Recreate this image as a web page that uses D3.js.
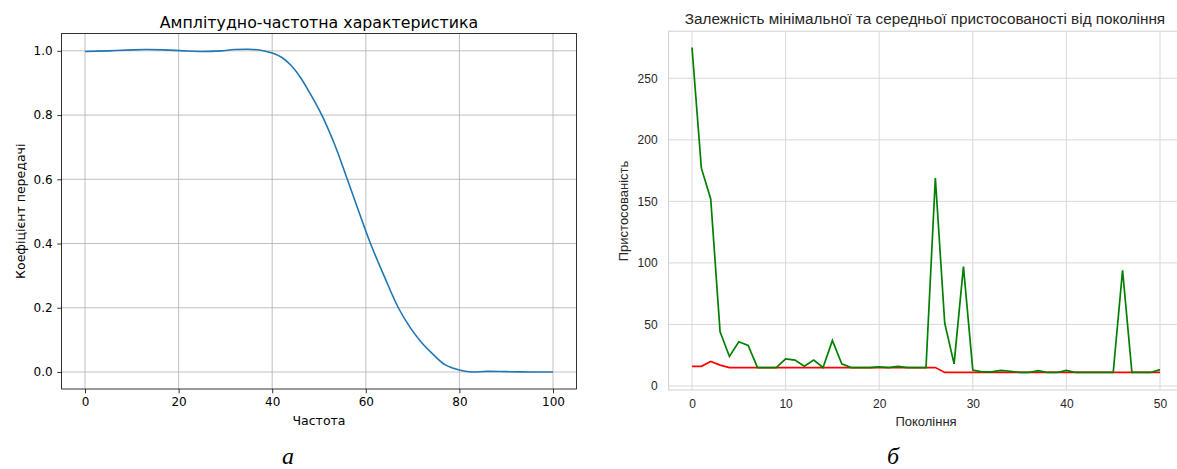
<!DOCTYPE html>
<html><head><meta charset="utf-8">
<script src="https://cdn.jsdelivr.net/npm/d3@7"></script>
<style>body{margin:0;background:#fff}</style>
</head><body>
<svg id="c" width="1177" height="469"></svg>
<script>
// ---- Left chart data ----
const freq = [0, 5, 10, 13, 17, 21, 25, 29, 32, 35, 37.5, 40, 42, 44, 46, 48, 50.6, 53.3, 56.05, 58.5, 61, 64, 66.95, 69.5, 72, 74.5, 77, 80, 82.5, 86, 90, 95, 100];
const gain = [0.998, 1.000, 1.003, 1.004, 1.003, 1.000, 0.998, 1.000, 1.004, 1.005, 1.002, 0.993, 0.980, 0.955, 0.918, 0.870, 0.800, 0.710, 0.600, 0.500, 0.400, 0.296, 0.200, 0.138, 0.090, 0.053, 0.022, 0.006, 0.000, 0.002, 0.001, 0.000, 0.000];
const freqTicks = [0, 20, 40, 60, 80, 100];
const gainTicks = [0.0, 0.2, 0.4, 0.6, 0.8, 1.0];

// ---- Right chart data ----
const generations = d3.range(0, 51);
const minFitness = [16, 16, 20, 17,
  15, 15, 15, 15, 15, 15, 15, 15, 15, 15, 15, 15, 15, 15, 15, 15, 15, 15, 15, 15, 15, 15, 15,
  11, 11, 11, 11, 11, 11, 11, 11, 11, 11, 11, 11, 11, 11, 11, 11, 11, 11, 11, 11, 11, 11, 11, 11];
const meanFitness = [275, 177, 152, 44, 24, 36, 33, 15, 15, 15,
  22, 21, 16, 21, 15, 37, 18, 15, 15, 15,
  15.5, 15, 16, 15, 15, 15, 169, 51, 18, 97,
  13, 11.5, 11.5, 12.7, 12, 11, 11, 12.5, 11, 11,
  12.7, 11, 11, 11, 11, 11, 94, 11, 11, 11, 13.3];
const genTicks = [0, 10, 20, 30, 40, 50];
const fitTicks = [0, 50, 100, 150, 200, 250];

const svg = d3.select("#c");

// ================= LEFT =================
(function(){
  const g = svg.append("g");
  const x = d3.scaleLinear().domain([-5, 105]).range([61.6, 576.4]);
  const y = d3.scaleLinear().domain([-0.053, 1.054]).range([389, 33.5]);
  const font = "DejaVu Sans, sans-serif";
  g.append("g").selectAll("line").data(freqTicks).join("line")
    .attr("x1", d => x(d)).attr("x2", d => x(d)).attr("y1", y.range()[0]).attr("y2", y.range()[1])
    .attr("stroke", "#b0b0b0").attr("stroke-width", 0.8);
  g.append("g").selectAll("line").data(gainTicks).join("line")
    .attr("y1", d => y(d)).attr("y2", d => y(d)).attr("x1", x.range()[0]).attr("x2", x.range()[1])
    .attr("stroke", "#b0b0b0").attr("stroke-width", 0.8);
  g.append("path").datum(freq.map((f, i) => [f, gain[i]]))
    .attr("fill", "none").attr("stroke", "#1f77b4").attr("stroke-width", 1.6)
    .attr("d", d3.line().x(d => x(d[0])).y(d => y(d[1])).curve(d3.curveCatmullRom.alpha(0.5)));
  const xa = d3.axisBottom(x).tickValues(freqTicks).tickSize(4.3).tickPadding(4).tickFormat(d3.format("d"));
  const ya = d3.axisLeft(y).tickValues(gainTicks).tickSize(4.3).tickPadding(4.7).tickFormat(d3.format(".1f"));
  const gx = g.append("g").attr("transform", `translate(0,${y.range()[0]})`).call(xa);
  const gy = g.append("g").attr("transform", `translate(${x.range()[0]},0)`).call(ya);
  [gx, gy].forEach(a => {
    a.select(".domain").remove();
    a.selectAll("line").attr("stroke", "#000").attr("stroke-width", 0.8);
    a.selectAll("text").attr("font-family", font).attr("font-size", "12px").attr("fill", "#000");
  });
  g.append("rect").attr("x", x.range()[0]).attr("y", y.range()[1])
    .attr("width", x.range()[1] - x.range()[0]).attr("height", y.range()[0] - y.range()[1])
    .attr("fill", "none").attr("stroke", "#000").attr("stroke-width", 0.8);
  g.append("text").attr("x", (x.range()[0] + x.range()[1]) / 2).attr("y", 27.5)
    .attr("text-anchor", "middle").attr("font-family", font).attr("font-size", "15.8px")
    .text("Амплітудно-частотна характеристика");
  g.append("text").attr("x", (x.range()[0] + x.range()[1]) / 2).attr("y", 425)
    .attr("text-anchor", "middle").attr("font-family", font).attr("font-size", "12.5px")
    .text("Частота");
  g.append("text").attr("transform", `translate(25,${(y.range()[0] + y.range()[1]) / 2}) rotate(-90)`)
    .attr("text-anchor", "middle").attr("font-family", font).attr("font-size", "12.5px")
    .text("Коефіцієнт передачі");
})();

// ================= RIGHT =================
(function(){
  const g = svg.append("g");
  const x = d3.scaleLinear().domain([-2.5, 52.5]).range([668.6, 1183.4]);
  const y = d3.scaleLinear().domain([-3.25, 288.25]).range([390, 31.2]);
  const font = "Liberation Sans, Arial, sans-serif";
  const tc = "#262626";
  g.append("g").selectAll("line").data(genTicks).join("line")
    .attr("x1", d => x(d)).attr("x2", d => x(d)).attr("y1", y.range()[0]).attr("y2", y.range()[1])
    .attr("stroke", "#d9d9d9").attr("stroke-width", 1);
  g.append("g").selectAll("line").data(fitTicks).join("line")
    .attr("y1", d => y(d)).attr("y2", d => y(d)).attr("x1", x.range()[0]).attr("x2", x.range()[1])
    .attr("stroke", "#d9d9d9").attr("stroke-width", 1);
  g.append("rect").attr("x", x.range()[0]).attr("y", y.range()[1])
    .attr("width", x.range()[1] - x.range()[0]).attr("height", y.range()[0] - y.range()[1])
    .attr("fill", "none").attr("stroke", "#d0d0d0").attr("stroke-width", 1);
  const line = d3.line().x((d, i) => x(generations[i])).y(d => y(d));
  g.append("path").datum(minFitness).attr("fill", "none").attr("stroke", "#ff0000")
    .attr("stroke-width", 1.7).attr("d", line);
  g.append("path").datum(meanFitness).attr("fill", "none").attr("stroke", "#008000")
    .attr("stroke-width", 1.7).attr("d", line);
  const xa = d3.axisBottom(x).tickValues(genTicks).tickSize(0).tickPadding(9);
  const ya = d3.axisLeft(y).tickValues(fitTicks).tickSize(0).tickPadding(11);
  const gx = g.append("g").attr("transform", `translate(0,${y.range()[0]})`).call(xa);
  const gy = g.append("g").attr("transform", `translate(${x.range()[0]},0)`).call(ya);
  [gx, gy].forEach(a => {
    a.select(".domain").remove();
    a.selectAll("text").attr("font-family", font).attr("font-size", "12px").attr("fill", tc);
  });
  g.append("text").attr("x", 925).attr("y", 24)
    .attr("text-anchor", "middle").attr("font-family", font).attr("font-size", "15.3px").attr("fill", tc)
    .text("Залежність мінімальної та середньої пристосованості від покоління");
  g.append("text").attr("x", 926).attr("y", 426)
    .attr("text-anchor", "middle").attr("font-family", font).attr("font-size", "13px").attr("fill", tc)
    .text("Покоління");
  g.append("text").attr("transform", `translate(628,211) rotate(-90)`)
    .attr("text-anchor", "middle").attr("font-family", font).attr("font-size", "13px").attr("fill", tc)
    .text("Пристосованість");
})();

// captions
svg.append("text").attr("x", 288).attr("y", 463.5).attr("text-anchor", "middle")
  .attr("font-family", "Liberation Serif, Times New Roman, serif").attr("font-style", "italic")
  .attr("font-size", "24px").text("а");
svg.append("text").attr("x", 893).attr("y", 463.5).attr("text-anchor", "middle")
  .attr("font-family", "Liberation Serif, Times New Roman, serif").attr("font-style", "italic")
  .attr("font-size", "24px").text("б");
</script>
</body></html>
